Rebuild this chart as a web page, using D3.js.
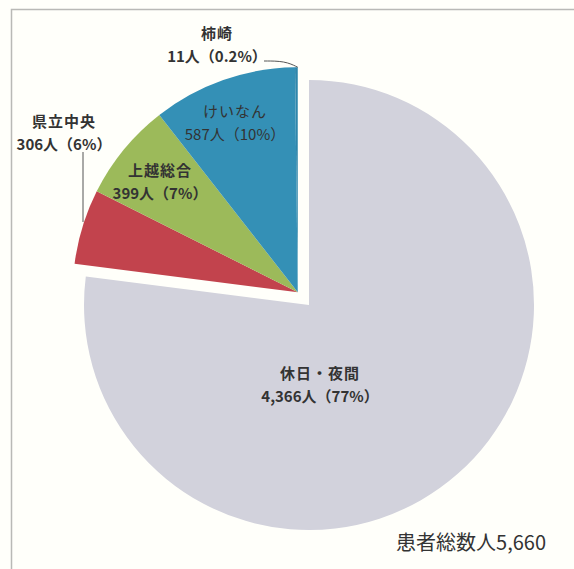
<!DOCTYPE html>
<html>
<head>
<meta charset="utf-8">
<script src="https://cdn.jsdelivr.net/npm/d3@7"></script>
<style>
  html, body { margin: 0; padding: 0; background: #fffffa; }
  svg { display: block; }
  text { font-family: "Noto Sans CJK JP", "Noto Sans", sans-serif; fill: #333; }
</style>
</head>
<body>
<div id="chart"></div>
<script>
// data
var names  = ["休日・夜間", "県立中央", "上越総合", "けいなん", "柿崎"];
var counts = [4366, 306, 399, 587, 11];
var pctLabels = ["77%", "6%", "7%", "10%", "0.2%"];
var totalLabel = "患者総数人5,660";

// styles / layout
var colors = ["#d2d2dc", "#c2434d", "#9cba5a", "#3490b6", "#2f86ab"];
var width = 574, height = 569;
var cx = 309, cy = 305, radius = 225, explode = 17;

// label anchors (x, baseline of first line), weight
var labelPos = [
  { x: 320, y: 379, bold: true },
  { x: 64,  y: 127, bold: true },
  { x: 160, y: 176, bold: true },
  { x: 235, y: 117, bold: false },
  { x: 217, y: 39,  bold: true }
];

var svg = d3.select("#chart").append("svg")
    .attr("width", width)
    .attr("height", height);

// frame
svg.append("path")
    .attr("d", "M11.5," + height + "V9.5H" + width)
    .attr("fill", "none")
    .attr("stroke", "#b9b9b6")
    .attr("stroke-width", 1.5);

var pie = d3.pie().sort(null).value(function(d){ return d; });
var arcs = pie(counts);
var arc = d3.arc().innerRadius(0).outerRadius(radius);

// small slices are pulled out together, along their common mid angle
var gStart = arcs[1].startAngle, gEnd = arcs[arcs.length - 1].endAngle;
var mid = (gStart + gEnd) / 2;
var ox = Math.sin(mid) * explode, oy = -Math.cos(mid) * explode;

var g = svg.append("g");
g.selectAll("path")
  .data(arcs)
  .enter().append("path")
    .attr("transform", function(d, i){
      return i === 0 ? "translate(" + cx + "," + cy + ")"
                     : "translate(" + (cx + ox) + "," + (cy + oy) + ")";
    })
    .attr("d", arc)
    .attr("fill", function(d, i){ return colors[i]; });

// leader lines
var line = d3.line().curve(d3.curveBasis);
svg.append("path")
    .attr("d", line([[264, 61], [285, 61], [cx + ox, cy + oy - radius]]))
    .attr("fill", "none").attr("stroke", "#555").attr("stroke-width", 1);
svg.append("path")
    .attr("d", line([[83, 152], [83, 222]]))
    .attr("fill", "none").attr("stroke", "#555").attr("stroke-width", 1);

// labels
var fmt = d3.format(",");
var lab = svg.selectAll("text.lab")
  .data(arcs)
  .enter().append("text")
    .attr("class", "lab")
    .attr("text-anchor", "middle")
    .attr("font-size", 15)
    .attr("font-weight", function(d, i){ return labelPos[i].bold ? "bold" : "normal"; })
    .attr("fill", function(d, i){ return i === 3 ? "#233f4e" : "#333"; });

lab.append("tspan")
    .attr("x", function(d, i){ return labelPos[i].x; })
    .attr("y", function(d, i){ return labelPos[i].y; })
    .attr("letter-spacing", 1)
    .text(function(d, i){ return names[i]; });
lab.append("tspan")
    .attr("x", function(d, i){ return labelPos[i].x; })
    .attr("dy", 23)
    .text(function(d, i){ return fmt(counts[i]) + "人（" + pctLabels[i] + "）"; });

svg.append("text")
    .attr("x", 546)
    .attr("y", 550)
    .attr("text-anchor", "end")
    .attr("font-size", 20)
    .text(totalLabel);
</script>
</body>
</html>
